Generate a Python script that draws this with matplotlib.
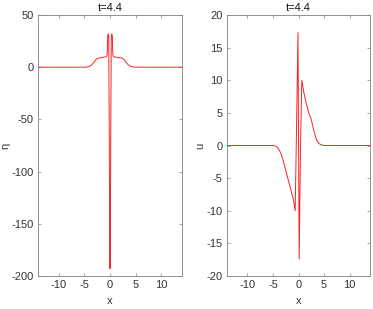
import matplotlib
matplotlib.use("Agg")
from matplotlib import pyplot as plt

plt.rcParams["font.family"] = ["Liberation Sans", "DejaVu Sans"]
plt.rcParams["axes.unicode_minus"] = False

# eta(x) at t=4.4
x_eta = [-14, -5, -4.5, -4, -3.5, -3, -2.7, -2.4, -2, -1.5, -1.2, -1.0, -0.7, -0.55,
         -0.45, -0.35, -0.25, -0.15, -0.05, 0, 0.05, 0.15, 0.25, 0.35, 0.45,
         0.55, 0.7, 1.0, 1.2, 1.5, 2, 2.4, 2.7, 3, 3.5, 4, 4.5, 5, 14]
eta = [0, 0, 0.2, 0.8, 2.5, 5.5, 7.5, 8.5, 9, 9.2, 9.6, 9.8, 10, 12,
       30, 32, 30, -60, -180, -193, -180, -60, 30, 32, 30,
       12, 10, 9.8, 9.6, 9.2, 9, 8.5, 7.5, 5.5, 2.5, 0.8, 0.2, 0, 0]

# u(x) at t=4.4
x_u = [-14, -5, -4.5, -4, -3.5, -3, -2.5, -2, -1.5, -1, -0.65, -0.4, -0.1,
       0.13, 0.4, 0.65, 1, 1.5, 2, 2.5, 3, 3.5, 4, 4.5, 5, 5.5, 14]
u = [0, 0, -0.1, -0.4, -1.1, -2.3, -3.8, -5.3, -6.8, -8.3, -10, 2, 17.3,
     -17.4, 0, 10, 8.3, 6.5, 5, 4, 2.3, 0.9, 0.3, 0.1, 0, 0, 0]

panels = [
    (x_eta, eta, "\u03b7", (-200, 50), [-200, -150, -100, -50, 0, 50]),
    (x_u, u, "u", (-20, 20), [-20, -15, -10, -5, 0, 5, 10, 15, 20]),
]
boxes = [[38 / 373, 33 / 309, 144 / 373, 261 / 309],
         [227 / 373, 33 / 309, 143 / 373, 261 / 309]]

fig = plt.figure(figsize=(3.73, 3.09), dpi=100)
for box, (xs, ys, name, ylim, yticks) in zip(boxes, panels):
    ax = fig.add_axes(box)
    ax.plot(xs, ys, color="#ff1f1f", lw=0.7)
    ax.set_xlim(-14, 14)
    ax.set_ylim(*ylim)
    ax.set_xticks([-10, -5, 0, 5, 10])
    ax.set_yticks(yticks)
    ax.tick_params(direction="in", top=True, right=True, length=2.5,
                   width=0.5, color="#7f7f7f", labelcolor="#333333",
                   labelsize=8, pad=3)
    for s in ax.spines.values():
        s.set_color("#7f7f7f")
        s.set_linewidth(0.6)
    ax.set_title("t=4.4", fontsize=8, color="#111111", pad=3)
    ax.set_xlabel("x", fontsize=8, color="#333333", labelpad=4)
    ax.set_ylabel(name, fontsize=8, color="#333333", labelpad=1)

fig.savefig("out.png", dpi=100)
